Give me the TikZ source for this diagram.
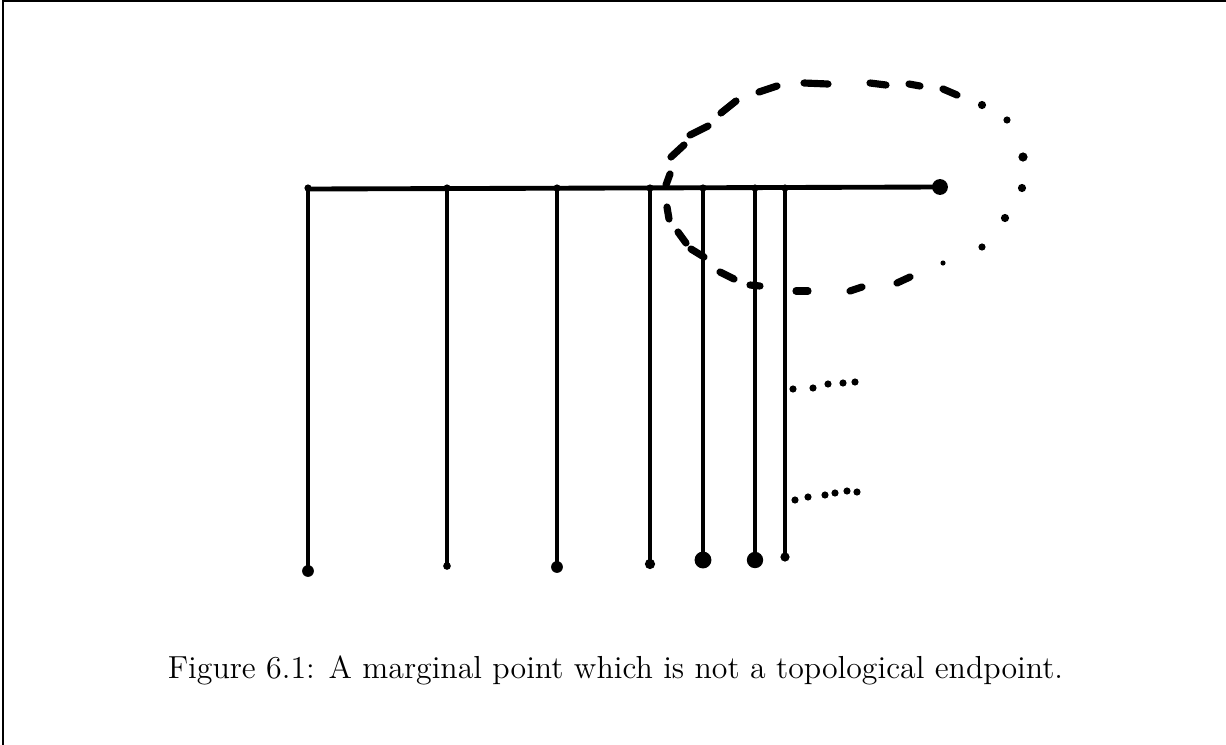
\documentclass[tikz,border=0pt]{standalone}
\usepackage{tikz}
\usetikzlibrary{positioning}

\begin{document}
\begin{tikzpicture}[
  x=0.390625pt, y=-0.390625pt,
  rod/.style={draw=black, line width=1.9pt},
  blob/.style={fill=black},
  pen/.style={draw=black, line width=2.8pt, line cap=round},
  frameline/.style={draw=black, line width=0.8pt}
]
\useasboundingbox (0,0) rectangle (1226,745);
\draw[frameline] (3,745) -- (3,1) -- (1226,1);

% the bar and its marginal end point
\coordinate (bar-left) at (308,189);
\coordinate (tip) at (940,187);
\draw[rod] (bar-left) -- (tip);
\fill[blob] (tip) circle[radius=3.1pt];

% rods hanging from the bar
\foreach \name/\x/\yb/\r in {a/308/571/2.3, b/447/566/1.5, c/557/567/2.3, d/650/564/2,
                             e/703/560/3.3, f/755/560/3.2, g/785/557/1.8}{
  \coordinate (\name-top) at (\x,188);
  \coordinate (\name-bot) at (\x,\yb);
  \draw[rod] (\name-top) -- (\name-bot);
  \fill[blob] (\name-bot) circle[radius=\r pt];
  \fill[blob] (\name-top) circle[radius=1.4pt];
}

% the rods that follow
\foreach \x/\y in {793/389, 813/388, 828/384, 843/383, 855/382,
                   795/500, 808/497, 825/495, 835/493, 847/491, 857/492}
  \fill[blob] (\x,\y) circle[radius=1.4pt];

% dashed neighbourhood of the tip
\foreach \xa/\ya/\xb/\yb in {667/207/669/219, 666/185/670/174, 671/157/684/145,
    690/135/708/126, 721/113/736/101, 759/92/777/86, 804/83/828/84, 870/83/886/85,
    909/84/920/86, 943/89/957/95, 897/283/910/277, 850/291/862/287, 796/291/808/291,
    750/285/760/286, 720/272/734/279, 691/249/704/257, 678/232/686/243}
  \draw[pen] (\xa,\ya) -- (\xb,\yb);
\foreach \x/\y/\r in {982/105/1.6, 1007/120/1.4, 1023/157/1.8, 1022/188/1.6,
                      1005/218/1.6, 982/247/1.4, 943/263/1.0}
  \fill[blob] (\x,\y) circle[radius=\r pt];

\node[font=\fontsize{12.45}{15}\selectfont, anchor=base] (caption) at (615.5,678)
  {Figure 6.1: A marginal point which is not a topological endpoint.};
\end{tikzpicture}
\end{document}
